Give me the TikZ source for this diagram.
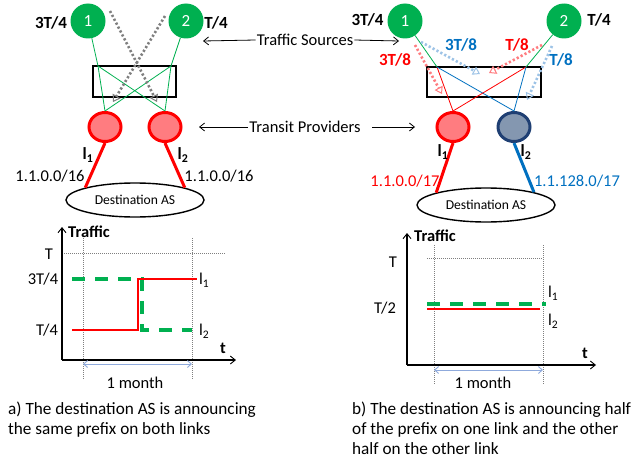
\documentclass[tikz,border=0pt]{standalone}
\usepackage{fontspec}
\setmainfont{Carlito}
\usetikzlibrary{arrows.meta,shapes.geometric}
\definecolor{sgreen}{HTML}{00B050}
\definecolor{lred}{HTML}{FF7C80}
\definecolor{bluet}{HTML}{0070C0}
\definecolor{bfill}{HTML}{8497B0}
\definecolor{bdraw}{HTML}{1F3F73}
\definecolor{lblue}{HTML}{9DC3E6}
\definecolor{mblue}{HTML}{8FAADC}
\definecolor{gdot}{HTML}{7F7F7F}
\begin{document}
\begin{tikzpicture}[x=1pt,y=-1pt,
  src/.style={circle, fill=sgreen, minimum size=35pt, inner sep=0pt, text=white, font=\fontsize{17}{20}\selectfont},
  tpred/.style={ellipse, draw=red, fill=lred, line width=3pt, minimum width=32pt, minimum height=29pt, inner sep=0pt},
  tpblue/.style={tpred, draw=bdraw, fill=bfill},
  dest/.style={ellipse, draw, line width=1.4pt, minimum width=138pt, minimum height=34pt, inner sep=0pt, font=\fontsize{13.6}{16}\selectfont},
  boxr/.style={draw, line width=1.8pt, inner sep=0pt},
  thinl/.style={line width=0.8pt},
  link/.style={line width=3pt},
  bl/.style={font=\bfseries\fontsize{17}{20}\selectfont, inner sep=0pt},
  nl/.style={font=\fontsize{16.5}{20}\selectfont, inner sep=0pt},
  captxt/.style={font=\fontsize{17.2}{20}\selectfont, inner sep=0pt, anchor=base west},
  dotarr/.style={line width=2.6pt, dash pattern=on 2.2pt off 2.2pt, -{Triangle[open, length=7pt, width=9pt, line width=1pt]}},
  pointer/.style={line width=0.8pt, -{Straight Barb[length=5pt, width=8pt]}},
  axis/.style={line width=1.8pt, -{Straight Barb[length=5pt, width=8pt, line width=0.9pt]}},
  guide/.style={gdot, line width=0.6pt, dash pattern=on 1pt off 1pt},
  gdash/.style={sgreen, line width=3.5pt, dash pattern=on 13pt off 10pt},
  rline/.style={red, line width=1.8pt},
  month/.style={mblue, line width=0.9pt, {Straight Barb[length=4pt, width=7pt]}-{Straight Barb[length=4pt, width=7pt]}}
]
\useasboundingbox (0,0) rectangle (636,460);

% ===== left top =====
\node[boxr, minimum width=83pt, minimum height=31pt] (boxa) at (134.5,81.5) {};
\node[src] (s1a) at (88,21) {1};
\node[src] (s2a) at (186,21) {2};
\node[tpred] (p1a) at (105,127) {};
\node[tpred] (p2a) at (165,127) {};
\node[dest] (da) at (135,200) {Destination AS};
\coordinate (c1a) at (98,66);
\coordinate (c2a) at (171,66);
\draw[thinl, sgreen] (s1a) -- (c1a) -- (p1a.north);
\draw[thinl, sgreen] (c1a) -- (p2a.north);
\draw[thinl, sgreen] (s2a) -- (c2a) -- (p2a.north);
\draw[thinl, sgreen] (c2a) -- (p1a.north);
\coordinate (g1s) at (110,11); \coordinate (g1e) at (157,102);
\coordinate (g2s) at (165,16); \coordinate (g2e) at (113,102);
\draw[dotarr, gdot] (g1s) -- (g1e);
\draw[dotarr, gdot] (g2s) -- (g2e);
\draw[link, red] (p1a.south) -- (da.166);
\draw[link, red] (p2a.south) -- (da.14);
\node[bl] (qa1) at (51,23) {3T/4};
\node[bl] (qa2) at (216,23) {T/4};
\node[bl] (l1a) at (88,155) {l\textsubscript{1}};
\node[bl] (l2a) at (183,155) {l\textsubscript{2}};
\node[nl] (pfa1) at (50,176) {1.1.0.0/16};
\node[nl] (pfa2) at (219,176) {1.1.0.0/16};

% ===== middle pointers =====
\node[nl, inner sep=1pt] (ts) at (305,40) {Traffic Sources};
\coordinate (tsl) at (203,41);
\coordinate (tsr) at (399,41);
\draw[pointer] (ts.west) -- (tsl);
\draw[pointer] (ts.east) -- (tsr);
\node[nl, inner sep=1pt] (tp) at (305,127) {Transit Providers};
\coordinate (tpl) at (199,127);
\coordinate (tpr) at (415,127);
\coordinate (tpr0) at (372,127);
\draw[pointer] (tp.west) -- (tpl);
\draw[pointer] (tpr0) -- (tpr);

% ===== right top =====
\node[boxr, minimum width=114pt, minimum height=30pt] (boxb) at (484,82) {};
\node[src] (s1b) at (405,21) {1};
\node[src] (s2b) at (564,21) {2};
\node[tpred] (p1b) at (453,127) {};
\node[tpblue] (p2b) at (514,127) {};
\node[dest] (db) at (486,205) {Destination AS};
\coordinate (c1b) at (437,67);
\coordinate (c2b) at (526,67);
\draw[thinl, sgreen] (s1b) -- (c1b);
\draw[thinl, sgreen] (s2b) -- (c2b);
\draw[thinl, red] (c1b) -- (p1b.north);
\draw[thinl, bluet] (c1b) -- (p2b.north);
\draw[thinl, red] (c2b) -- (p1b.north);
\draw[thinl, bluet] (c2b) -- (p2b.north);
\coordinate (r1s) at (415,45); \coordinate (r1e) at (442,94);
\coordinate (b1s) at (421,42); \coordinate (b1e) at (480,74);
\coordinate (r2s) at (542,45); \coordinate (r2e) at (489,73);
\coordinate (b2s) at (552,46); \coordinate (b2e) at (527,100);
\draw[dotarr, lred] (r1s) -- (r1e);
\draw[dotarr, lblue] (b1s) -- (b1e);
\draw[dotarr, lred] (r2s) -- (r2e);
\draw[dotarr, lblue] (b2s) -- (b2e);
\draw[link, red] (p1b.south) -- (db.166);
\draw[link, bluet] (p2b.south) -- (db.15);
\node[bl] (qb1) at (367.5,20) {3T/4};
\node[bl] (qb2) at (599,20) {T/4};
\node[bl, red] (fr1) at (395,60) {3T/8};
\node[bl, bluet] (fb1) at (461,45) {3T/8};
\node[bl, red] (fr2) at (517,45) {T/8};
\node[bl, bluet] (fb2) at (561,60) {T/8};
\node[bl] (l1b) at (443,152) {l\textsubscript{1}};
\node[bl] (l2b) at (526,152) {l\textsubscript{2}};
\node[nl, red] (pfb1) at (405,181) {1.1.0.0/17};
\node[nl, bluet] (pfb2) at (577,181) {1.1.128.0/17};

% ===== left graph =====
\coordinate (oa) at (62,360);
\coordinate (ya) at (62,227);
\coordinate (xa) at (236,360);
\draw[guide] (83,238) -- (83,380);
\draw[guide] (192,238) -- (192,380);
\draw[guide] (62,253) -- (225,253);
\draw[axis] (oa) -- (ya);
\draw[axis] (oa) -- (xa);
\draw[gdash] (72,279) -- (142,279) -- (142,330) -- (192,330);
\draw[rline] (72,330) -- (138,330) -- (138,279) -- (197,279);
\node[font=\bfseries\fontsize{16.5}{20}\selectfont, inner sep=0pt, anchor=west] (tra) at (68,232) {Traffic};
\node[font=\bfseries\fontsize{16.5}{20}\selectfont, inner sep=0pt] (ta) at (223,348) {t};
\node[nl] (Ta) at (49,254) {T};
\node[nl] (t34) at (43,279) {3T/4};
\node[nl] (t14) at (47,330) {T/4};
\node[nl, anchor=west] (g1a) at (199,280) {l\textsubscript{1}};
\node[nl, anchor=west] (g2a) at (199,331) {l\textsubscript{2}};
\coordinate (ma1) at (83,364); \coordinate (ma2) at (192,364);
\draw[month] (ma1) -- (ma2);
\node[nl] (mona) at (135,383) {1 month};
\node[captxt] (capa1) at (8,414.5) {a) The destination AS is announcing};
\node[captxt] (capa2) at (8,434.5) {the same prefix on both links};

% ===== right graph =====
\coordinate (ob) at (407,365);
\coordinate (yb) at (407,233);
\coordinate (xb) at (596,365);
\draw[guide] (434,245) -- (434,385);
\draw[guide] (543,245) -- (543,385);
\draw[guide] (427,258) -- (542,258);
\draw[axis] (ob) -- (yb);
\draw[axis] (ob) -- (xb);
\draw[gdash] (427,304) -- (546,304);
\draw[rline] (427,309) -- (540,309);
\node[font=\bfseries\fontsize{16.5}{20}\selectfont, inner sep=0pt, anchor=west] (trb) at (414,236) {Traffic};
\node[font=\bfseries\fontsize{16.5}{20}\selectfont, inner sep=0pt] (tb) at (585,353) {t};
\node[nl] (Tb) at (393,262) {T};
\node[nl] (t12) at (385,308) {T/2};
\node[nl, anchor=west] (g1b) at (548,293) {l\textsubscript{1}};
\node[nl, anchor=west] (g2b) at (548,321) {l\textsubscript{2}};
\coordinate (mb1) at (434,370); \coordinate (mb2) at (543,370);
\draw[month] (mb1) -- (mb2);
\node[nl] (monb) at (483,383) {1 month};
\node[captxt] (capb1) at (352,414.5) {b) The destination AS is announcing half};
\node[captxt] (capb2) at (352,434.5) {of the prefix on one link and the other};
\node[captxt] (capb3) at (352,454.5) {half on the other link};
\end{tikzpicture}
\end{document}
